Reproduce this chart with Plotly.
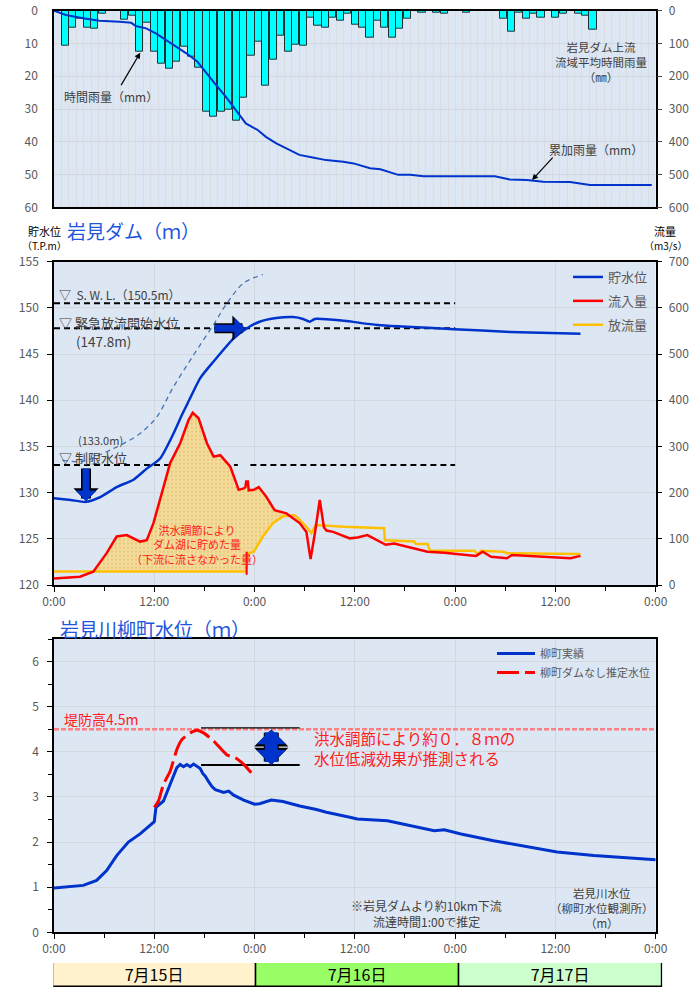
import plotly.graph_objects as go

W, H = 694, 987
def fx(px): return px / W
def fy(py): return 1 - py / H

FONT = "Noto Sans CJK JP"
GRAY = "#595959"
TXT = "#404040"
BLUE = "#0033cc"
TITLEBLUE = "#2255dd"
BG = "#dde7f3"
GRID = "#d4d8de"

# ---------------- Top panel: rainfall ----------------
rain_slot = list(range(1, 73))
rain_mm = [10.8, 5.3, 2.5, 5.3, 5.6, 1.0, 0, 0, 2.8, 1.5, 12.4, 3.6, 12.4, 16.1, 17.6, 15.7, 10.9, 14.1, 17.4, 30.8,
           32.3, 30.8, 30.1, 33.7, 26.4, 13.7, 9.6, 23.0, 15.1, 7.5, 12.4, 10.5, 10.8, 2.2, 4.5, 5.3, 2.2, 3.1, 1.0, 4.4,
           5.1, 8.1, 3.1, 5.1, 8.1, 5.4, 2.3, 0, 0.6, 0, 0.5, 0.8, 0, 0, 0.5, 0, 0, 0, 0, 2.3,
           6.4, 0.5, 2.3, 1.0, 2.0, 0, 2.0, 0.8, 0, 1.0, 1.6, 5.9]
cum_x = [-0.5, 1.1, 3.4, 5.6, 8.3, 9.9, 10.5, 11.9, 13.2, 14.6, 15.9, 17.3, 18.8, 20.0, 21.3, 22.6, 24.0, 25.3, 26.9,
         28.0, 29.4, 30.7, 32.5, 34.3, 36.1, 38.4, 39.8, 42.0, 43.4, 45.8, 47.4, 49.2, 58.8, 60.8, 63.1, 65.3, 68.9,
         71.6, 79.9]
cum_mm = [0, 13, 23, 31, 34, 37, 47, 54, 69, 90, 110, 130, 156, 191, 227, 262, 303, 344, 364, 385, 405, 420, 440,
          448, 456, 461, 466, 481, 484, 501, 501, 505, 505, 515, 517, 522, 523, 532, 532]

# ---------------- Middle panel: Iwami dam ----------------
level_h = [0, 2, 3.8, 5.5, 7.5, 9.5, 11.1, 12.7, 14.3, 15.3, 15.9, 17.5, 19.1, 21.5, 23.1, 24.6, 26.6, 28.6, 29.8,
           30.6, 31.2, 34.7, 38.7, 47.9, 54.6, 63.0]
level_m = [129.4, 129.2, 129.0, 129.5, 130.6, 131.4, 132.6, 133.7, 136.4, 138.4, 139.5, 142.4, 144.2, 146.7, 147.8,
           148.5, 148.9, 149.0, 148.8, 148.5, 148.8, 148.6, 148.15, 147.7, 147.4, 147.2]
nodam_level_h = [1.0, 3.5, 5.5, 6.7, 8.3, 10.3, 12.3, 14.2, 16.7, 19.1, 20.7, 22.7, 25.0]
nodam_level_m = [133.5, 133.4, 134.1, 134.6, 135.3, 136.4, 138.2, 141.3, 144.9, 148.2, 150.5, 152.7, 153.6]

inflow_h = [0, 3.1, 4.7, 6.3, 7.5, 8.7, 10.3, 11.1, 11.9, 13.1, 13.9, 15.1, 16.1, 16.6, 17.3, 18.3, 19.1, 19.9,
            21.1, 22.1, 22.7, 22.9, 23.0, 23.2, 23.3, 23.9, 24.5, 25.4, 26.4, 27.8, 29.4, 30.2, 30.7, 31.2, 31.8,
            32.3, 32.6, 33.4, 35.4, 36.3, 37.5, 39.7, 40.7, 44.7, 46.7, 50.5, 51.3, 52.3, 54.2, 54.8, 58.6, 61.8, 63.0]
inflow_q = [14, 18, 29, 69, 105, 108, 94, 97, 134, 213, 264, 307, 357, 373, 361, 307, 278, 281,
            256, 206, 209, 212, 224, 224, 205, 206, 212, 191, 162, 155, 134, 115, 56, 110, 184,
            125, 118, 115, 101, 103, 108, 87, 90, 72, 70, 63, 72, 61, 58, 65, 61, 58, 63]
outflow_h = [0, 23.0, 23.2, 23.9, 25.0, 26.2, 27.4, 28.8, 29.4, 30.2, 30.8, 31.3, 34.7, 39.5, 39.6, 43.1, 43.3,
             44.7, 45.0, 50.3, 50.7, 51.1, 53.8, 54.2, 63.0]
outflow_q = [29, 29, 68, 72, 105, 134, 149, 151, 141, 126, 112, 130, 126, 123, 97, 94, 89,
             89, 74, 74, 67, 74, 72, 69, 67]
gate_mark_h = [23.05, 23.05]
gate_mark_q = [22, 72]

ref_lines = {"swl": 150.5, "emerg": 147.8, "limit": 133.0}
ref_end_h = 48
limit_gap = (22.0, 23.5)

# ---------------- Bottom panel: Yanagimachi ----------------
yan_h = [0, 1.5, 3.5, 5.1, 6.3, 7.5, 8.9, 10.3, 11.7, 12.0, 12.2, 13.1, 13.9, 14.7, 15.1, 15.5, 15.9, 16.3, 16.7,
         17.1, 17.5, 17.8, 18.1, 18.5, 18.9, 19.3, 19.9, 20.3, 20.9, 21.5, 22.7, 24.0, 24.6, 26.0, 27.4, 29.4, 31.4,
         32.6, 35.4, 36.3, 39.9, 42.7, 45.5, 46.7, 48.7, 52.6, 56.6, 60.2, 64.6, 68.6, 72.0]
yan_m = [0.98, 1.0, 1.04, 1.15, 1.37, 1.70, 2.0, 2.18, 2.40, 2.45, 2.77, 2.91, 3.28, 3.65, 3.72, 3.67, 3.72, 3.67,
         3.73, 3.67, 3.63, 3.52, 3.46, 3.34, 3.23, 3.16, 3.13, 3.10, 3.13, 3.04, 2.93, 2.84, 2.85, 2.93, 2.90, 2.80,
         2.72, 2.66, 2.55, 2.51, 2.47, 2.36, 2.25, 2.27, 2.18, 2.03, 1.89, 1.78, 1.70, 1.65, 1.61]
nodam_h = [12.0, 12.5, 13.1, 13.9, 14.7, 15.3, 16.3, 17.1, 17.9, 19.1, 20.7, 21.7, 22.7, 24.0]
nodam_m = [2.77, 2.91, 3.28, 3.57, 4.05, 4.27, 4.42, 4.48, 4.42, 4.24, 3.93, 3.87, 3.72, 3.45]
levee_m = 4.5
peak_nodam_m = 4.53
peak_actual_m = 3.71
peak_bracket_h = (17.6, 29.4)

# ---------------- Date bar ----------------
dates = ["7月15日", "7月16日", "7月17日"]
date_hours = [24, 24, 24]
date_start = [0, 24, 48]
date_colors = ["#fff2cc", "#99ff66", "#ccffcc"]

hour_ticks = [0, 12, 24, 36, 48, 60, 72]
hour_labels = ["0:00", "12:00", "0:00", "12:00", "0:00", "12:00", "0:00"]

fig = go.Figure()

# top
fig.add_trace(go.Bar(x=rain_slot, y=rain_mm, xaxis="x", yaxis="y", width=0.96,
                     marker=dict(color="#00ffff", line=dict(color="#203030", width=1)), showlegend=False))
fig.add_trace(go.Scatter(x=cum_x, y=cum_mm, xaxis="x", yaxis="y2", mode="lines",
                         line=dict(color=BLUE, width=2), showlegend=False))

# middle: fill between outflow and inflow
fo_h = [h for h in outflow_h if h <= 27.4]
fo_q = [q for h, q in zip(outflow_h, outflow_q) if h <= 27.4]
fi_h = [h for h in inflow_h if 4.7 <= h <= 27.8]
fi_q = [q for h, q in zip(inflow_h, inflow_q) if 4.7 <= h <= 27.8]
fig.add_trace(go.Scatter(x=fo_h, y=fo_q, xaxis="x2", yaxis="y4", mode="lines",
                         line=dict(width=0, color="rgba(0,0,0,0)"), showlegend=False, hoverinfo="skip"))
fig.add_trace(go.Scatter(x=fi_h, y=fi_q, xaxis="x2", yaxis="y4", mode="lines", fill="tonexty",
                         fillcolor="rgba(242,210,130,0.9)",
                         fillpattern=dict(shape=".", fgcolor="#e3ad52", bgcolor="#f2dc9c", size=4, solidity=0.25),
                         line=dict(width=0, color="rgba(0,0,0,0)"), showlegend=False, hoverinfo="skip"))

# reference dashed levels
for key in ["swl", "emerg"]:
    fig.add_trace(go.Scatter(x=[0, ref_end_h], y=[ref_lines[key]] * 2, xaxis="x2", yaxis="y3", mode="lines",
                             line=dict(color="black", width=2, dash="6px,4px"), showlegend=False))
fig.add_trace(go.Scatter(x=[0, limit_gap[0], None, limit_gap[1], ref_end_h],
                         y=[ref_lines["limit"]] * 2 + [None] + [ref_lines["limit"]] * 2,
                         xaxis="x2", yaxis="y3", mode="lines",
                         line=dict(color="black", width=2, dash="6px,4px"), showlegend=False))

fig.add_trace(go.Scatter(x=nodam_level_h, y=nodam_level_m, xaxis="x2", yaxis="y3", mode="lines",
                         line=dict(color="#4a74b5", width=1.3, dash="5px,4px", shape="spline"), showlegend=False))
fig.add_trace(go.Scatter(x=outflow_h, y=outflow_q, xaxis="x2", yaxis="y4", mode="lines", name="放流量",
                         line=dict(color="#ffc000", width=2.5), legend="legend2", legendgroup="c", legendrank=3,
                         showlegend=True))
fig.add_trace(go.Scatter(x=inflow_h, y=inflow_q, xaxis="x2", yaxis="y4", mode="lines", name="流入量",
                         line=dict(color="#ff0000", width=2.5), legend="legend2", legendgroup="b", legendrank=2))
fig.add_trace(go.Scatter(x=gate_mark_h, y=gate_mark_q, xaxis="x2", yaxis="y4", mode="lines",
                         line=dict(color="#ff0000", width=2), showlegend=False))
fig.add_trace(go.Scatter(x=level_h, y=level_m, xaxis="x2", yaxis="y3", mode="lines", name="貯水位",
                         line=dict(color=BLUE, width=2.5, shape="spline", smoothing=0.6),
                         legend="legend2", legendgroup="a", legendrank=1))

# bottom
fig.add_trace(go.Scatter(x=[0, 72], y=[levee_m, levee_m], xaxis="x3", yaxis="y5", mode="lines",
                         line=dict(color="#ff8080", width=2.5, dash="5px,2px"), showlegend=False))
fig.add_trace(go.Scatter(x=list(peak_bracket_h), y=[peak_nodam_m] * 2, xaxis="x3", yaxis="y5", mode="lines",
                         line=dict(color="black", width=1.2), showlegend=False))
fig.add_trace(go.Scatter(x=list(peak_bracket_h), y=[peak_actual_m] * 2, xaxis="x3", yaxis="y5", mode="lines",
                         line=dict(color="black", width=2), showlegend=False))
fig.add_trace(go.Scatter(x=yan_h, y=yan_m, xaxis="x3", yaxis="y5", mode="lines", name="柳町実績",
                         line=dict(color=BLUE, width=3), legend="legend3"))
fig.add_trace(go.Scatter(x=nodam_h, y=nodam_m, xaxis="x3", yaxis="y5", mode="lines", name="柳町ダムなし推定水位",
                         line=dict(color="#ff0000", width=3, dash="22px,6px", shape="spline", smoothing=0.5),
                         legend="legend3"))

# date bar
fig.add_trace(go.Bar(x=date_hours, base=date_start, y=[0, 0, 0], orientation="h", width=1,
                     xaxis="x4", yaxis="y6", marker=dict(color=date_colors, line=dict(color="black", width=1.5)),
                     text=dates, textposition="inside", insidetextanchor="middle", constraintext="none",
                     textfont=dict(size=16, color="black", family=FONT), showlegend=False, hoverinfo="skip"))

XD = [fx(54), fx(655.7)]
tickf = dict(family=FONT, size=12, color=GRAY)
common_x = dict(domain=XD, showline=True, linecolor="black", linewidth=1.5, mirror=True, zeroline=False,
                gridcolor=GRID, automargin=False)
fig.update_layout(
    width=W, height=H, margin=dict(l=0, r=0, t=0, b=0, autoexpand=False), paper_bgcolor="white",
    plot_bgcolor=BG, font=dict(family=FONT, color=TXT), bargap=0, uniformtext=dict(minsize=16, mode="show"),
    xaxis=dict(common_x, anchor="y", range=[-0.5, 80.43], tick0=-0.5, dtick=1, showticklabels=False,
               gridcolor="rgba(215,215,215,0.7)", ticks=""),
    yaxis=dict(domain=[fy(207.3), fy(10.7)], anchor="x", range=[60, 0], dtick=10, showline=True,
               linecolor="black", linewidth=1.5, gridcolor=GRID, zeroline=False, tickfont=tickf,
               ticklabelstandoff=12, automargin=False),
    yaxis2=dict(overlaying="y", anchor="x", side="right", range=[600, 0], dtick=100, showgrid=False,
                showline=True, linecolor="black", linewidth=1.5, ticks="outside", ticklen=5, zeroline=False,
                tickfont=tickf, ticklabelstandoff=4, automargin=False),
    xaxis2=dict(common_x, anchor="y3", range=[0, 72], tickvals=hour_ticks, ticktext=hour_labels,
                ticks="outside", ticklen=5, tickcolor="black", tickfont=tickf,
                minor=dict(dtick=6, ticks="outside", ticklen=4, tickcolor="black", showgrid=False)),
    yaxis3=dict(domain=[fy(585), fy(261.7)], anchor="x2", range=[120, 155], dtick=5, showline=True,
                linecolor="black", linewidth=1.5, ticks="outside", ticklen=5, tickcolor="black",
                gridcolor=GRID, zeroline=False, tickfont=tickf, ticklabelstandoff=6, automargin=False),
    yaxis4=dict(overlaying="y3", anchor="x2", side="right", range=[0, 700], dtick=100, showgrid=False,
                showline=True, linecolor="black", linewidth=1.5, ticks="outside", ticklen=5, tickcolor="black",
                zeroline=False, tickfont=tickf, ticklabelstandoff=4, automargin=False),
    xaxis3=dict(common_x, anchor="y5", range=[0, 72], tickvals=hour_ticks, ticktext=hour_labels,
                ticks="outside", ticklen=5, tickcolor="black", tickfont=tickf,
                minor=dict(dtick=6, ticks="outside", ticklen=4, tickcolor="black", showgrid=False)),
    yaxis5=dict(domain=[fy(932.3), fy(639)], anchor="x3", range=[0, 6.5], dtick=1, showline=True,
                linecolor="black", linewidth=1.5, mirror=True, ticks="outside", ticklen=5, tickcolor="black",
                minor=dict(dtick=0.5, ticks="outside", ticklen=4, tickcolor="black", showgrid=False),
                gridcolor=GRID, zeroline=False, tickfont=tickf, ticklabelstandoff=6, automargin=False),
    xaxis4=dict(domain=[fx(53.3), fx(662.3)], anchor="y6", range=[0, 72], visible=False, automargin=False),
    yaxis6=dict(domain=[0, fy(963)], anchor="x4", range=[-0.5, 0.5], visible=False, automargin=False),
    legend2=dict(x=fx(568), y=fy(262), xanchor="left", yanchor="top", bgcolor="rgba(0,0,0,0)",
                 font=dict(family=FONT, size=13, color=GRAY), traceorder="grouped", tracegroupgap=4,
                 itemwidth=30),
    legend3=dict(x=fx(492), y=fy(639), xanchor="left", yanchor="top", bgcolor="rgba(0,0,0,0)",
                 font=dict(family=FONT, size=11, color=GRAY), itemwidth=38, tracegroupgap=0),
)

ann = []
def txt(x, y, s, size=12, color=TXT, xanchor="left", align="left"):
    ann.append(dict(x=fx(x), y=fy(y), xref="paper", yref="paper", text=s, showarrow=False,
                    font=dict(family=FONT, size=size, color=color), xanchor=xanchor, yanchor="middle",
                    align=align))

# top panel texts
txt(601, 62, "岩見ダム上流<br>流域平均時間雨量<br>（㎜）", 11.5, TXT, "center", "center")
txt(111, 97, "時間雨量（mm）", 12, TXT, "center")
txt(596, 150, "累加雨量（mm）", 12, TXT, "center")
ann.append(dict(x=11.1, y=12.8, xref="x", yref="y", ax=-20, ay=34, text="", showarrow=True,
                arrowhead=2, arrowsize=1, arrowwidth=1.2, arrowcolor="black"))
ann.append(dict(x=63.8, y=517, xref="x", yref="y2", ax=22, ay=-24, text="", showarrow=True,
                arrowhead=2, arrowsize=1, arrowwidth=1.2, arrowcolor="black"))

# middle panel texts
txt(44, 231, "貯水位", 11, "black", "center")
txt(44, 246, "（T.P.m）", 10, "black", "center")
txt(65, 230, "岩見ダム（ｍ）", 19, TITLEBLUE)
txt(665, 231, "流量", 11, "black", "center")
txt(665, 246, "（m3/s）", 10, "black", "center")
txt(57, 294, "▽  S. W. L.（150.5m）", 12)
txt(57, 322, "▽ 緊急放流開始水位", 13)
txt(74, 341, "(147.8m)", 13.5)
txt(76, 440, "(133.0m)", 11)
txt(57, 457, "▽ 制限水位", 13)
txt(197, 544, "洪水調節により<br>ダム湖に貯めた量<br>（下流に流さなかった量）", 11, "#ff2020", "center", "center")

# block arrows in middle panel
for w, s, c in [(10, 0.42, "black"), (7, 0.5, BLUE)]:
    ann.append(dict(x=3.83, y=129.1, xref="x2", yref="y3", ax=0, ay=-34, text="", showarrow=True,
                    arrowhead=1, arrowsize=s, arrowwidth=w, arrowcolor=c))
    ann.append(dict(x=22.85, y=ref_lines["emerg"], xref="x2", yref="y3", ax=-32, ay=0, text="", showarrow=True,
                    arrowhead=1, arrowsize=s, arrowwidth=w, arrowcolor=c))

# bottom panel texts
txt(58, 628, "岩見川柳町水位（ｍ）", 19, TITLEBLUE)
txt(62, 719, "堤防高4.5m", 14, "#ff2020")
txt(312, 738, "洪水調節により約０．８ｍの", 15.5, "#ff2020")
txt(312, 758, "水位低減効果が推測される", 15.5, "#ff2020")
txt(426, 905, "※岩見ダムより約10km下流", 12, TXT, "center")
txt(426, 921, "流達時間1:00で推定", 12, TXT, "center")
txt(602, 908, "岩見川水位<br>（柳町水位観測所）<br>（m）", 11.5, TXT, "center", "center")

for w, s, c in [(15, 0.38, "black"), (13, 0.38, BLUE)]:
    ann.append(dict(x=26.0, y=peak_actual_m, xref="x3", yref="y5", axref="x3", ayref="y5",
                    ax=26.0, ay=peak_nodam_m, text="", showarrow=True, arrowside="end+start",
                    arrowhead=1, startarrowhead=1, arrowsize=s, startarrowsize=s, arrowwidth=w, arrowcolor=c))

fig.update_layout(annotations=ann)
fig.write_html("out.html", config={"displayModeBar": False},
               post_script="document.body.style.margin='0px';")
